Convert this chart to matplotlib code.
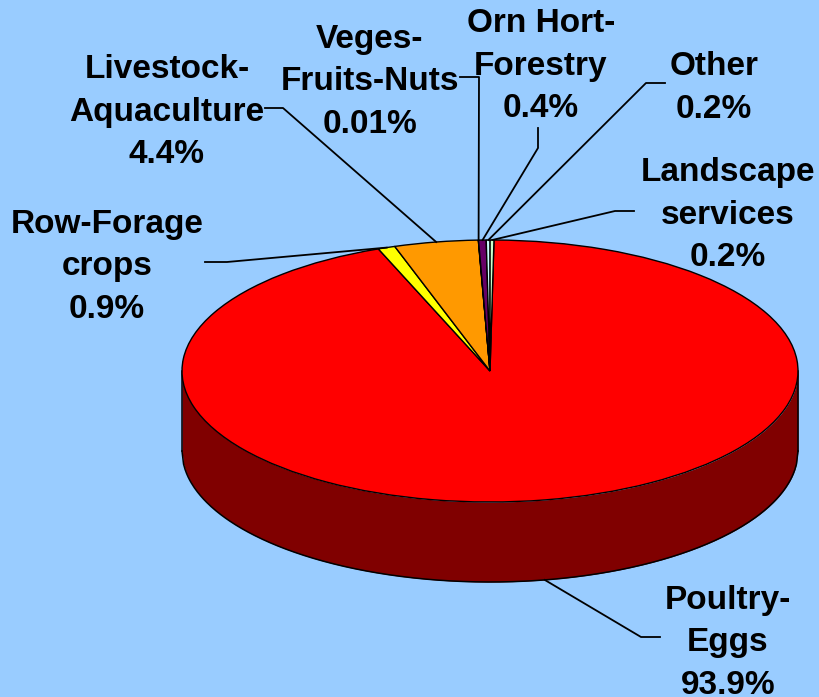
import numpy as np
import matplotlib
matplotlib.use('Agg')
import matplotlib.pyplot as plt

plt.rcParams['font.family'] = ['Liberation Sans', 'DejaVu Sans']

categories = ['Poultry-\nEggs', 'Row-Forage\ncrops', 'Livestock-\nAquaculture', 'Veges-\nFruits-Nuts',
              'Orn Hort-\nForestry', 'Other', 'Landscape\nservices']
shares = [93.9, 0.9, 4.4, 0.01, 0.4, 0.2, 0.2]
share_labels = ['93.9%', '0.9%', '4.4%', '0.01%', '0.4%', '0.2%', '0.2%']
colors = ['#ff0000', '#ffff00', '#ff9900', '#ccffff', '#660066', '#ccffff', '#ccffcc']

# pixel layout of the pie
W, H = 820, 697
cx, cy = 490, 371
rx, ry = 308, 131
depth = 80
start = 0.74  # degrees clockwise from the top

# label centre, then leader elbows (pixels)
label_pos = [(728, 643), (107, 267), (167, 112), (370, 82), (541, 66), (714, 88), (728, 215)]
leader_pts = [[(641, 637), (660, 637)],
              [(227, 262), (205, 262)],
              [(283, 108), (265, 108)],
              [(479, 77), (460, 77)],
              [(538, 148), (538, 128)],
              [(646, 83), (665, 83)],
              [(615, 211), (634, 211)]]

fig = plt.figure(figsize=(W / 100, H / 100), dpi=100, facecolor='#99ccff')

# data units are pie radii, so the ellipse comes from the axes scaling
ax = fig.add_axes([0, 0, 1, 1])
ax.pie(shares, colors=colors, startangle=90 - start, counterclock=False,
       wedgeprops={'edgecolor': 'black', 'linewidth': 1.0, 'zorder': 3})
ax.set_aspect('auto')
ax.set_xlim(-cx / rx, (W - cx) / rx)
ax.set_ylim((cy - H) / ry, cy / ry)

# side of the disc
x = np.linspace(-1, 1, 400)
lower = -np.sqrt(1 - x ** 2)
d = depth / ry
ax.fill_between(x, lower, lower - d, color='#800000', zorder=1, lw=0)
ax.plot(x, lower - d, color='black', lw=1.1, zorder=2)
ax.plot([-1, -1], [0, -d], color='black', lw=1.1, zorder=2)
ax.plot([1, 1], [0, -d], color='black', lw=1.1, zorder=2)

# labels and leaders live in pixel space
over = fig.add_axes([0, 0, 1, 1])
over.set_xlim(0, W)
over.set_ylim(H, 0)
over.axis('off')
over.patch.set_alpha(0)

angle = start
for i, share in enumerate(shares):
    mid = np.radians(angle + share * 3.6 / 2)
    angle += share * 3.6
    ax0 = cx + rx * np.sin(mid)
    ay0 = cy - ry * np.cos(mid)
    if i == 0:
        ay0 += depth
    pts = [(ax0, ay0)] + leader_pts[i]
    over.plot([p[0] for p in pts], [p[1] for p in pts], color='black', lw=1.3, zorder=4)
    over.text(label_pos[i][0], label_pos[i][1], categories[i] + '\n' + share_labels[i],
              ha='center', va='center', fontsize=24, fontweight='bold', linespacing=1.46,
              color='black', zorder=5)

fig.savefig('out.png', dpi=100, facecolor=fig.get_facecolor())
